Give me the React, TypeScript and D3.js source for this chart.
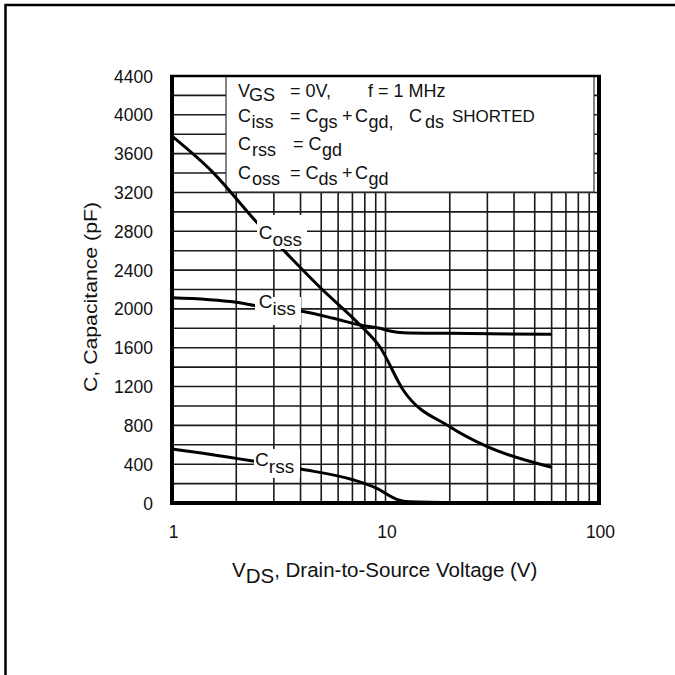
import * as d3 from "d3";

// capacitance vs drain-source voltage
const vdsCoss = [1, 1.55, 2.5, 3.45, 5, 7.6, 9.4, 12.1, 20, 30, 60];
const coss = [3780, 3410, 2890, 2570, 2210, 1834, 1610, 1164, 786, 580, 368];

const vdsCiss = [1, 2, 2.5, 4, 5.7, 7.6, 9.4, 10.5, 12.1, 20, 60];
const ciss = [2115, 2068, 2030, 1978, 1903, 1834, 1800, 1772, 1755, 1748, 1738];

const vdsCrss = [1, 2, 2.5, 4, 7.1, 9.1, 11.3, 13, 22];
const crss = [556, 460, 425, 350, 237, 151, 38, 13, 5];

const xTickLabels = [1, 10, 100];
const yTickLabels = [0, 400, 800, 1200, 1600, 2000, 2400, 2800, 3200, 3600, 4000, 4400];

const W = 675;
const H = 675;
const left = 172;
const right = 599;
const top = 76;
const bottom = 503;
const FONT = "'Liberation Sans', Arial, Helvetica, sans-serif";

const x = d3.scaleLog().domain([1, 100]).range([left, right]);
const y = d3.scaleLinear().domain([0, 4400]).range([bottom, top]);

const line = d3
  .line<[number, number]>()
  .x((d) => x(d[0]))
  .y((d) => y(d[1]))
  .curve(d3.curveMonotoneX);

const zip = (a: number[], b: number[]) => a.map((v, i) => [v, b[i]] as [number, number]);

// curve labels: name, subscript, anchor (V, pF), white halo box
const curveLabels = [
  { main: "C", sub: "oss", v: 2.55, c: 2725, box: [257, 215, 50, 34] },
  { main: "C", sub: "iss", v: 2.55, c: 2005, box: [255, 297, 46, 28] },
  { main: "C", sub: "rss", v: 2.45, c: 380, box: [254, 449, 46, 29] },
];

export default function App() {
  const vGrid = x.ticks();
  const hGrid = d3.range(0, 4401, 200);

  return (
    <svg
      width={W}
      height={H}
      viewBox={`0 0 ${W} ${H}`}
      style={{ position: "absolute", left: 0, top: 0, background: "#fff" }}
      fontFamily={FONT}
    >
      <rect width={W} height={H} fill="#fff" />
      {/* page frame, runs off the right and bottom */}
      <path d={`M5.5,${H} V5 H${W}`} fill="none" stroke="#000" strokeWidth={2.5} />

      {/* grid */}
      <g stroke="#1a1a1a" strokeWidth={1.6}>
        {vGrid.map((t) => (
          <line key={"v" + t} x1={x(t)} x2={x(t)} y1={top} y2={bottom} />
        ))}
        {hGrid.map((t) => (
          <line key={"h" + t} x1={left} x2={right} y1={y(t)} y2={y(t)} />
        ))}
      </g>

      {/* legend box */}
      <rect x={226} y={top} width={368} height={116} fill="#fff" stroke="#333" strokeWidth={1.2} />
      <g fontSize={18} fill="#111">
        <text y={97}>
          <tspan x={238}>V</tspan>
          <tspan x={249} dy={4}>GS</tspan>
          <tspan x={290} dy={-4}>= 0V,</tspan>
          <tspan x={368}>f = 1 MHz</tspan>
        </text>
        <text y={122}>
          <tspan x={238}>C</tspan>
          <tspan x={251.5} dy={6}>iss</tspan>
          <tspan x={290} dy={-6}>= C</tspan>
          <tspan x={318.5} dy={6}>gs</tspan>
          <tspan x={342} dy={-6}>+</tspan>
          <tspan x={355}>C</tspan>
          <tspan x={368.5} dy={6}>gd</tspan>
          <tspan>,</tspan>
          <tspan x={409} dy={-6}>C</tspan>
          <tspan x={425} dy={6}>ds</tspan>
          <tspan x={452} dy={-6} fontSize={17}>SHORTED</tspan>
        </text>
        <text y={150}>
          <tspan x={238}>C</tspan>
          <tspan x={252} dy={6}>rss</tspan>
          <tspan x={293} dy={-6}>= C</tspan>
          <tspan x={322} dy={6}>gd</tspan>
        </text>
        <text y={179}>
          <tspan x={238}>C</tspan>
          <tspan x={252} dy={6}>oss</tspan>
          <tspan x={290} dy={-6}>= C</tspan>
          <tspan x={318.5} dy={6}>ds</tspan>
          <tspan x={342} dy={-6}>+</tspan>
          <tspan x={355}>C</tspan>
          <tspan x={368.5} dy={6}>gd</tspan>
        </text>
      </g>

      {/* curves */}
      <g fill="none" stroke="#000" strokeWidth={3} strokeLinejoin="round">
        <path d={line(zip(vdsCoss, coss)) ?? ""} />
        <path d={line(zip(vdsCiss, ciss)) ?? ""} />
        <path d={line(zip(vdsCrss, crss)) ?? ""} />
      </g>

      {/* curve labels with white halo */}
      {curveLabels.map((l) => (
        <g key={l.sub}>
          <rect x={l.box[0]} y={l.box[1]} width={l.box[2]} height={l.box[3]} fill="#fff" />
          <text x={x(l.v)} y={y(l.c)} fontSize={19} fill="#111">
            {l.main}
            <tspan dy={7}>{l.sub}</tspan>
          </text>
        </g>
      ))}

      {/* plot frame */}
      <g stroke="#000" fill="none">
        <line x1={left - 2} x2={right + 2} y1={top} y2={top} strokeWidth={2.5} />
        <line x1={left} x2={left} y1={top} y2={bottom + 2} strokeWidth={4} />
        <line x1={right} x2={right} y1={top} y2={bottom + 2} strokeWidth={4} />
        <line x1={left - 2} x2={right + 2} y1={bottom} y2={bottom} strokeWidth={4} />
      </g>

      {/* tick labels */}
      <g fontSize={17.5} fill="#111">
        {yTickLabels.map((t) => (
          <text key={t} x={153} y={y(t) + 6.5} textAnchor="end">
            {t}
          </text>
        ))}
        {xTickLabels.map((t) => (
          <text key={t} x={x(t) + 1.5} y={538} textAnchor="middle">
            {t}
          </text>
        ))}
      </g>

      {/* axis titles */}
      <text x={232} y={577} fontSize={20.5} fill="#111">
        V<tspan dy={6}>DS</tspan>
        <tspan dy={-6}>, Drain-to-Source Voltage (V)</tspan>
      </text>
      <text
        transform="translate(97, 297) rotate(-90)"
        textAnchor="middle"
        fontSize={18}
        textLength={190}
        lengthAdjust="spacingAndGlyphs"
        fill="#111"
      >
        C, Capacitance (pF)
      </text>
    </svg>
  );
}
